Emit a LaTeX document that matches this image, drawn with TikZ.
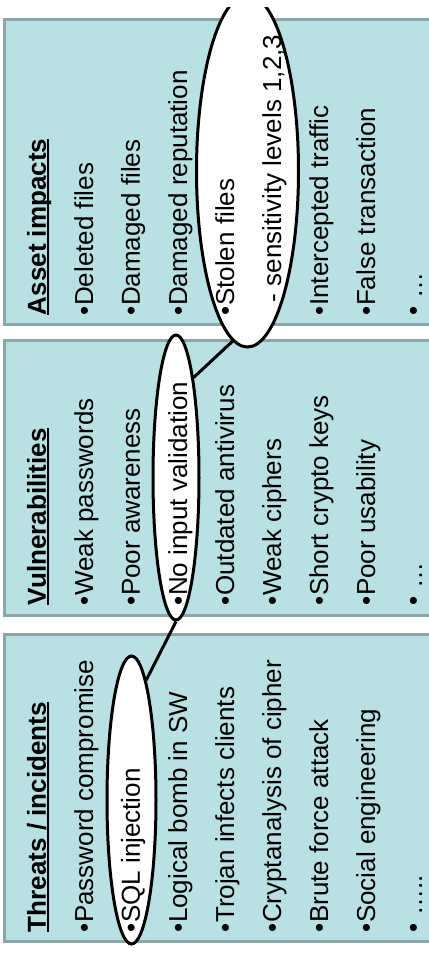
\documentclass[tikz,border=0pt]{standalone}
\usepackage{fontspec}
\setmainfont{Liberation Sans}
\usepackage{tikz}
\usetikzlibrary{shapes.geometric}
\definecolor{panelfill}{RGB}{185,224,227}
\definecolor{panelline}{RGB}{138,167,169}

\begin{document}
\begin{tikzpicture}[x=0.5pt, y=-0.5pt, font=\fontsize{13}{15}\selectfont,
    panel/.style={fill=panelfill, draw=panelline, line width=1.5pt},
    entry/.style={rotate=90, anchor=base west, inner sep=0pt, outer sep=0pt},
    ring/.style={ellipse, draw=black, fill=white, line width=1.5pt, inner sep=0pt},
    link/.style={line width=1.5pt}]
    \clip (0,0) rectangle (429,955);

    % Draw panels (they run off the right side)
    \foreach \top/\bot in {19/324.7, 340/615.7, 634/941}
      \draw[panel] (4.3,\bot) rectangle (460,\top);

    % Draw rings round the chosen entries
    \node[ring, minimum width=24.5pt, minimum height=144pt] (sqlring) at (131.5,800) {};
    \node[ring, minimum width=23pt, minimum height=142.5pt] (inputring) at (176,477.5) {};
    \begin{scope}
      \clip (0,7) rectangle (429,955);
      \node[ring, minimum width=51pt, minimum height=176pt] (lossring) at (247.5,171) {};
    \end{scope}

    % Draw links between rings
    \draw[link] (sqlring.83.4) -- (inputring.270.8);
    \draw[link] (inputring.80.4) -- (lossring.265.1);

    % Data: threats / incidents
    \node[entry] (thr-1) at (46,932) {\textbf{Threats / incidents}};
    \foreach \k/\txt in {2/•Password compromise, 3/•SQL injection, 4/•Logical bomb in SW,
        5/•Trojan infects clients, 6/•Cryptanalysis of cipher, 7/•Brute force attack,
        8/•Social engineering, 9/• …..} {
      \node[entry, name=thr-\k] at (46+47*\k-47,932) {\txt};
    }

    % Data: vulnerabilities
    \node[entry] (vul-1) at (46,605) {\textbf{Vulnerabilities}};
    \foreach \k/\txt in {2/•Weak passwords, 3/•Poor awareness, 4/•No input validation,
        5/•Outdated antivirus, 6/•Weak ciphers, 7/•Short crypto keys,
        8/•Poor usability, 9/• …} {
      \node[entry, name=vul-\k] at (46+47*\k-47,605) {\txt};
    }

    % Data: asset impacts
    \node[entry] (ast-1) at (46,315) {\textbf{Asset impacts}};
    \foreach \k/\txt in {2/•Deleted files, 3/•Damaged files, 4/•Damaged reputation,
        5/•Stolen files, 7/•Intercepted traffic, 8/•False transaction, 9/• …} {
      \node[entry, name=ast-\k] at (46+47*\k-47,315) {\txt};
    }
    \node[entry] (ast-6) at (281,302) {- sensitivity levels 1,2,3};

    % Underline the headings
    \foreach \h in {thr-1, vul-1, ast-1}
      \draw[line width=1pt] ([xshift=1.2pt]\h.base west) -- ([xshift=1.2pt]\h.base east);

\end{tikzpicture}
\end{document}
